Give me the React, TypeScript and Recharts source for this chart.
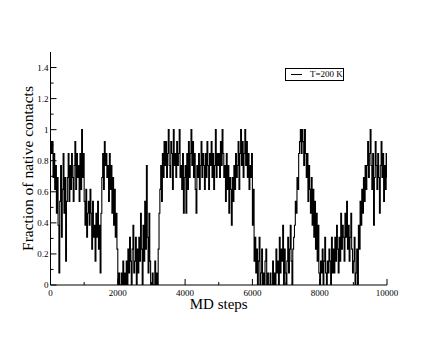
import React from 'react';
import { LineChart, Line, XAxis, YAxis } from 'recharts';

// counts of native contacts (out of 13), one value every 25 MD steps
const seg0 = [12,11,12,9,11,8,10,6,9,5,1,7,10,4,8,11,6,9,2,7,9,11,7,10,8,11,9,7,10,12,8,11,9,10,7,11,8,13,9,11];
const seg1 = [7,5,8,4,6,7,5,8,6,3,7,4,5,2,6,4,7,3,5,1,6,9,11,8,12,10,11,9,10,7,11,8,10,6,9,5,8,4,6,3];
const seg2 = [0,1,0,0,1,0,2,0,1,0,2,0,3,1,4,2,0,3,5,1,2,4,0,3,1,4,2,6,3,0,5,2,7,3,10,4,1,6,2,0];
const seg3 = [0,1,0,0,2,0,1,0,3,6,8,10,7,11,9,12,10,12,9,11,13,10,9,12,11,8,13,10,11,9,12,10,11,13,9,10,8,11,6,9];
const seg4 = [10,6,11,8,12,9,11,13,10,12,9,11,8,6,10,9,11,8,10,12,9,11,10,8,11,9,12,10,8,11,10,12,9,11,8,10,13,9,11,10];
const seg5 = [11,9,12,10,13,11,9,10,7,11,8,10,6,9,8,5,9,7,10,8,11,9,10,12,8,11,13,10,12,9,11,13,10,12,9,11,8,10,9,11];
const seg6 = [5,8,2,4,1,3,0,2,4,0,1,3,0,1,0,2,3,0,1,0,0,1,0,0,2,0,1,0,3,1,2,0,4,1,3,2,5,0,3,1];
const seg7 = [0,2,4,1,3,5,2,0,3,4,5,7,6,9,8,11,12,13,11,13,12,10,13,11,9,11,7,10,8,6,9,5,8,4,7,3,6,2,5,1];
const seg8 = [0,2,1,3,0,2,4,1,0,2,1,3,2,0,4,1,3,1,4,2,5,3,1,4,2,6,3,5,4,2,6,4,7,3,5,2,4,6,3,1];
const seg9 = [2,4,0,1,3,0,5,3,7,5,8,6,9,7,10,8,10,12,9,11,13,10,8,11,5,9,12,10,8,11,9,6,10,12,9,11,7,10,8,11];
const lastValue = [9];

const stepSize = 25;
const totalContacts = 13;
const xTicks = [0,1000,2000,3000,4000,5000,6000,7000,8000,9000,10000];
const yTicks = [0,0.1,0.2,0.3,0.4,0.5,0.6,0.7,0.8,0.9,1,1.1,1.2,1.3,1.4,1.5];
const seriesName = 'T=200 K';

const counts = [...seg0, ...seg1, ...seg2, ...seg3, ...seg4, ...seg5, ...seg6, ...seg7, ...seg8, ...seg9, ...lastValue];
const data = counts.map((c, i) => ({ step: i * stepSize, frac: c / totalContacts }));

const FONT = '"Liberation Serif", "Times New Roman", serif';

const isMajorX = (v: number) => v % 2000 === 0;
const isMajorY = (v: number) => Math.round(v * 10) % 2 === 0;
const fmtY = (v: number) => {
  const r = Math.round(v * 10) / 10;
  return String(r);
};

const BottomTick = (p: any) => {
  const { x, y, payload } = p;
  const major = isMajorX(payload.value);
  return (
    <g>
      <line x1={x} x2={x} y1={y} y2={y - (major ? 6 : 3)} stroke="#000" strokeWidth={1} />
      {major && (
        <text x={x} y={y + 11} textAnchor="middle" fontSize={9} fontFamily={FONT} fill="#000">
          {payload.value}
        </text>
      )}
    </g>
  );
};

const TopTick = (p: any) => {
  const { x, y, payload } = p;
  const major = isMajorX(payload.value);
  return <line x1={x} x2={x} y1={y} y2={y + (major ? 6 : 3)} stroke="#000" strokeWidth={1} />;
};

const LeftTick = (p: any) => {
  const { x, y, payload } = p;
  const major = isMajorY(payload.value);
  const top = Math.abs(payload.value - 1.5) < 1e-6;
  return (
    <g>
      {!top && <line x1={x} x2={x + (major ? 6 : 3)} y1={y} y2={y} stroke="#000" strokeWidth={1} />}
      {major && (
        <text x={x - 2} y={y + 3} textAnchor="end" fontSize={9} fontFamily={FONT} fill="#000">
          {fmtY(payload.value)}
        </text>
      )}
    </g>
  );
};

const RightTick = (p: any) => {
  const { x, y, payload } = p;
  const major = isMajorY(payload.value);
  const top = Math.abs(payload.value - 1.5) < 1e-6;
  if (top) return <g />;
  return <line x1={x} x2={x - (major ? 6 : 3)} y1={y} y2={y} stroke="#000" strokeWidth={1} />;
};

const XTitle = (p: any) => {
  const vb = p.viewBox || {};
  return (
    <text x={vb.x + vb.width / 2} y={vb.y + 23.5} textAnchor="middle" fontSize={15} fontFamily={FONT} fill="#000">
      MD steps
    </text>
  );
};

const YTitle = (p: any) => {
  const vb = p.viewBox || {};
  const cx = 33;
  const cy = vb.y + vb.height / 2;
  return (
    <text x={cx} y={cy} transform={`rotate(-90 ${cx} ${cy})`} textAnchor="middle" fontSize={15.5} fontFamily={FONT} fill="#000">
      Fraction of native contacts
    </text>
  );
};

export default function App() {
  return (
    <div style={{ position: 'absolute', left: 0, top: 0, width: 436, height: 337, background: '#fff' }}>
      <LineChart width={436} height={337} data={data} margin={{ top: 52, right: 49, bottom: 22, left: 0 }}>
        <XAxis
          xAxisId="bottom"
          dataKey="step"
          type="number"
          domain={[0, 10000]}
          ticks={xTicks}
          interval={0}
          height={30}
          tickSize={0}
          tickMargin={0}
          tickLine={false}
          axisLine={{ stroke: '#000', strokeWidth: 1 }}
          tick={<BottomTick />}
          label={<XTitle />}
          allowDataOverflow
        />
        <XAxis
          xAxisId="top"
          orientation="top"
          dataKey="step"
          type="number"
          domain={[0, 10000]}
          ticks={xTicks}
          interval={0}
          height={0}
          tickSize={0}
          tickMargin={0}
          tickLine={false}
          axisLine={{ stroke: '#000', strokeWidth: 1 }}
          tick={<TopTick />}
          allowDataOverflow
        />
        <YAxis
          yAxisId="left"
          type="number"
          domain={[0, 1.5]}
          ticks={yTicks}
          interval={0}
          width={50.5}
          tickSize={0}
          tickMargin={0}
          tickLine={false}
          axisLine={{ stroke: '#000', strokeWidth: 1 }}
          tick={<LeftTick />}
          label={<YTitle />}
          allowDataOverflow
        />
        <YAxis
          yAxisId="right"
          orientation="right"
          type="number"
          domain={[0, 1.5]}
          ticks={yTicks}
          interval={0}
          width={0}
          tickSize={0}
          tickMargin={0}
          tickLine={false}
          axisLine={{ stroke: '#000', strokeWidth: 1 }}
          tick={<RightTick />}
          allowDataOverflow
        />
        <Line
          xAxisId="bottom"
          yAxisId="left"
          type="stepAfter"
          dataKey="frac"
          name={seriesName}
          stroke="#000"
          strokeWidth={1.1}
          dot={false}
          activeDot={false}
          isAnimationActive={false}
        />
        <Line
          xAxisId="top"
          yAxisId="right"
          type="linear"
          dataKey="frac"
          stroke="none"
          dot={false}
          activeDot={false}
          legendType="none"
          isAnimationActive={false}
        />
      </LineChart>
      <div
        style={{
          position: 'absolute',
          left: 285,
          top: 68,
          width: 57,
          height: 11,
          border: '1px solid #000',
          background: '#fff',
          display: 'flex',
          alignItems: 'center',
          fontFamily: FONT,
          fontSize: 9,
          lineHeight: '11px',
          color: '#000',
          whiteSpace: 'nowrap',
        }}
      >
        <span style={{ display: 'inline-block', width: 11, height: 0, borderTop: '1px solid #000', marginLeft: 5, marginRight: 8 }} />
        <span>{seriesName}</span>
      </div>
    </div>
  );
}
